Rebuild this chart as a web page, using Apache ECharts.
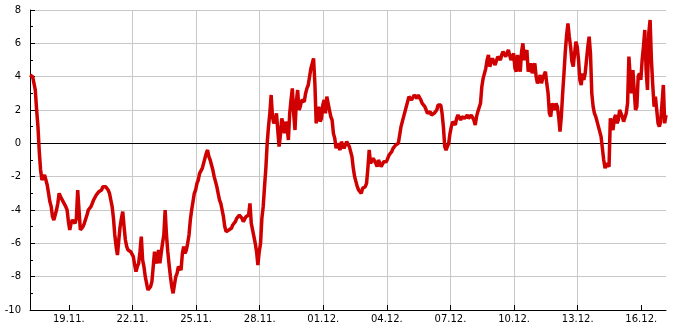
<!DOCTYPE html>
<html>
<head>
<meta charset="utf-8">
<script src="https://cdn.jsdelivr.net/npm/echarts@6/dist/echarts.min.js"></script>
<style>html,body{margin:0;padding:0;background:#fff}#c{width:685px;height:330px}</style>
</head>
<body>
<div id="c"></div>
<script>
// x values are hours relative to 19.11. 00:00
// "values": readings every 3 hours from startHour; "midValues": readings half-way between them
const startHour = -44;
const stepHours = 3;
const endHour = 676;
const tickLabels = ['19.11.', '22.11.', '25.11.', '28.11.', '01.12.', '04.12.', '07.12.', '10.12.', '13.12.', '16.12.'];
const tickHours = [0, 72, 144, 216, 288, 360, 432, 504, 576, 648];
const yTicks = [-10, -8, -6, -4, -2, 0, 2, 4, 6, 8];
const values = [
  4.1, 4.0, 3.2, 1.0, -1.6, -2.3, -1.8, -3.0, -3.8, -4.6,
  -4.0, -3.0, -3.3, -3.4, -4.0, -5.2, -4.6, -4.8, -2.8, -5.2,
  -5.0, -4.8, -4.0, -3.8, -3.4, -3.1, -2.9, -2.8, -2.5, -2.7,
  -3.0, -3.8, -5.5, -6.7, -5.0, -4.1, -5.8, -6.4, -6.5, -6.8,
  -7.7, -7.2, -5.6, -7.4, -8.4, -8.9, -8.3, -6.5, -7.2, -7.2,
  -6.0, -4.0, -6.5, -8.0, -9.0, -8.0, -7.4, -7.6, -6.2, -6.4,
  -5.5, -4.0, -3.0, -2.4, -1.8, -1.5, -0.9, -0.4, -1.0, -1.6,
  -2.3, -3.0, -3.6, -4.4, -5.3, -5.2, -5.1, -4.8, -4.5, -4.3,
  -4.5, -4.7, -4.5, -3.6, -5.2, -6.0, -7.3, -6.0, -3.8, -1.5,
  1.0, 2.9, 1.2, 1.8, -0.2, 1.5, 0.6, 1.0, 1.8, 3.3,
  0.8, 3.2, 2.2, 2.7, 3.0, 3.5, 4.5, 5.1, 1.2, 2.2,
  1.5, 2.6, 2.8, 2.0, 1.4, 0.3, 0.0, -0.4, 0.0, -0.2,
  0.2, -0.3, -1.5, -2.3, -2.8, -3.0, -2.6, -2.4, -0.4, -1.3,
  -0.8, -1.4, -1.1, -1.3, -1.0, -0.9, -0.6, -0.3, -0.1, 0.0,
  1.0, 1.6, 2.2, 2.8, 2.6, 2.9, 2.7, 2.8, 2.4, 2.2,
  1.8, 1.9, 1.6, 1.7, 2.3, 2.3, 1.0, -0.4, 0.0, 1.0,
  1.2, 1.5, 1.6, 1.6, 1.5, 1.7, 1.4, 1.6, 1.1, 1.9,
  2.4, 3.9, 4.5, 5.3, 4.7, 5.0, 4.8, 5.2, 5.3, 5.5,
  5.1, 5.5, 5.2, 4.5, 5.3, 4.3, 6.0, 5.1, 4.3, 4.8,
  4.6, 4.0, 3.8, 3.6, 4.1, 3.6, 1.8, 2.4, 2.0, 2.2,
  0.7, 3.0, 5.5, 7.2, 5.8, 4.6, 6.1, 5.0, 3.5, 3.8,
  5.0, 6.4, 3.0, 1.8, 1.3, 0.9, -0.3, -1.5, -1.2, 1.5,
  0.8, 1.7, 1.4, 1.9, 1.3, 1.8, 5.2, 3.0, 4.5, 2.2,
  4.2, 5.0, 6.8, 3.2, 7.4, 3.5, 2.8, 1.2, 1.3, 3.5,
  1.7
];
const midValues = [
  4.0, 3.9, 2.0, -0.5, -2.2, -1.9, -2.5, -3.5, -4.4, -4.5,
  -3.6, -3.2, -3.5, -3.8, -4.7, -4.8, -4.5, -4.5, -4.0, -5.3,
  -4.8, -4.3, -3.9, -3.6, -3.3, -3.0, -2.9, -2.6, -2.6, -2.8,
  -3.4, -4.5, -6.2, -5.8, -4.5, -5.0, -6.2, -6.5, -6.6, -7.3,
  -7.4, -6.5, -7.0, -8.0, -8.8, -8.6, -7.4, -7.0, -6.4, -7.3,
  -5.5, -5.5, -7.3, -8.6, -8.5, -7.8, -7.3, -6.6, -6.6, -6.0,
  -4.6, -3.5, -2.8, -2.2, -1.7, -1.2, -0.6, -0.8, -1.3, -2.0,
  -2.6, -3.4, -4.0, -5.0, -5.4, -5.2, -4.9, -4.7, -4.4, -4.4,
  -4.7, -4.4, -4.3, -4.8, -5.6, -6.5, -6.5, -4.5, -2.6, 0.0,
  1.8, 1.6, 1.4, 0.8, 0.5, 1.2, 1.3, 0.2, 2.6, 1.8,
  2.5, 2.0, 2.6, 2.5, 3.3, 4.0, 4.8, 3.6, 1.8, 1.3,
  2.3, 1.8, 2.4, 1.6, 0.6, -0.3, 0.1, 0.1, -0.3, 0.1,
  -0.2, -0.8, -2.0, -2.6, -2.8, -2.7, -2.6, -1.5, -1.2, -0.9,
  -1.2, -1.0, -1.4, -1.1, -1.1, -0.7, -0.5, -0.2, -0.2, 0.5,
  1.3, 1.9, 2.5, 2.9, 2.7, 2.8, 2.9, 2.6, 2.5, 2.0,
  1.9, 1.7, 1.8, 2.0, 2.4, 1.8, -0.2, -0.2, 0.6, 1.3,
  1.1, 1.7, 1.4, 1.7, 1.6, 1.5, 1.7, 1.4, 1.6, 2.0,
  3.4, 4.2, 5.0, 4.6, 5.1, 4.7, 5.2, 5.0, 5.5, 5.2,
  5.6, 5.0, 5.4, 4.3, 4.6, 5.5, 5.0, 5.6, 4.4, 4.2,
  4.8, 3.6, 4.1, 3.9, 4.3, 3.0, 1.6, 2.2, 2.4, 1.6,
  1.6, 4.2, 6.5, 6.4, 4.9, 5.4, 5.8, 3.8, 4.2, 4.2,
  5.8, 5.4, 2.2, 1.6, 1.0, 0.4, -1.0, -1.2, -1.4, 1.6,
  1.5, 1.2, 2.0, 1.6, 1.4, 2.4, 4.0, 4.4, 2.0, 4.0,
  3.8, 5.8, 4.4, 6.6, 5.0, 2.2, 2.0, 1.0, 2.4, 1.2
];
const seriesData = [];
values.forEach((v, i) => {
  seriesData.push([startHour + i * stepHours, v]);
  if (i < midValues.length) seriesData.push([startHour + (i + 0.5) * stepHours, midValues[i]]);
});
const FONT = 'DejaVu Sans';
const chart = echarts.init(document.getElementById('c'), null, {renderer: 'canvas'});
chart.setOption({
  animation: false,
  backgroundColor: '#fff',
  grid: {left: 30, right: 19, top: 10, bottom: 20, containLabel: false},
  xAxis: {
    type: 'value',
    min: startHour,
    max: endHour,
    axisLine: {show: true, onZero: false, lineStyle: {color: '#000', width: 1}},
    axisTick: {show: true, inside: true, length: 5, customValues: tickHours, lineStyle: {color: '#000'}},
    axisLabel: {
      show: true, customValues: tickHours, margin: 4,
      fontFamily: FONT, fontSize: 10, color: '#000',
      formatter: v => { const k = tickHours.indexOf(Math.round(v)); return k >= 0 ? tickLabels[k] : ''; }
    },
    splitLine: {show: true, showMinLine: false, showMaxLine: false, lineStyle: {color: '#c8c8c8', width: 1}}
  },
  yAxis: {
    type: 'value',
    min: yTicks[0],
    max: yTicks[yTicks.length - 1],
    interval: 2,
    axisLine: {show: true, onZero: false, lineStyle: {color: '#000', width: 1}},
    axisTick: {show: true, inside: true, length: 5, lineStyle: {color: '#000'}},
    minorTick: {show: true, splitNumber: 2, length: 3, lineStyle: {color: '#000'}},
    axisLabel: {fontFamily: FONT, fontSize: 10, color: '#000', margin: 9},
    splitLine: {show: true, showMinLine: false, lineStyle: {color: '#c8c8c8', width: 1}}
  },
  series: [{
    type: 'line',
    data: seriesData,
    showSymbol: false,
    symbol: 'none',
    sampling: null,
    lineStyle: {color: '#d00000', width: 3.5, join: 'bevel', cap: 'butt'},
    z: 3,
    markLine: {
      silent: true,
      symbol: ['none', 'none'],
      label: {show: false},
      lineStyle: {color: '#000', width: 1, type: 'solid'},
      data: [{yAxis: 0}],
      z: 2
    }
  }]
});
</script>
</body>
</html>
